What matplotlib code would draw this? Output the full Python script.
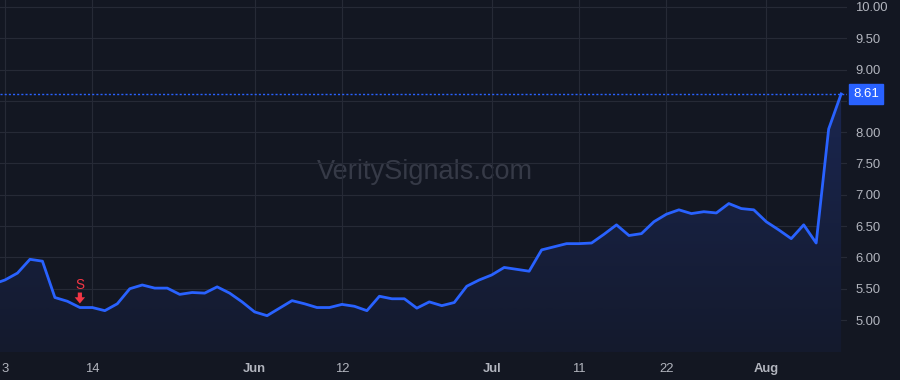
import numpy as np
import pandas as pd
import matplotlib
matplotlib.use('Agg')
import matplotlib.pyplot as plt
from matplotlib import transforms

# trading days, May 2 .. Aug 9 (May 2 sits just off the left edge)
dates = pd.to_datetime([
    '2024-05-02', '2024-05-03', '2024-05-06', '2024-05-07', '2024-05-08', '2024-05-09', '2024-05-10',
    '2024-05-13', '2024-05-14', '2024-05-15', '2024-05-16', '2024-05-17', '2024-05-20', '2024-05-21',
    '2024-05-22', '2024-05-23', '2024-05-24', '2024-05-28', '2024-05-29', '2024-05-30', '2024-05-31',
    '2024-06-03', '2024-06-04', '2024-06-05', '2024-06-06', '2024-06-07', '2024-06-10', '2024-06-11',
    '2024-06-12', '2024-06-13', '2024-06-14', '2024-06-17', '2024-06-18', '2024-06-20', '2024-06-21',
    '2024-06-24', '2024-06-25', '2024-06-26', '2024-06-27', '2024-06-28', '2024-07-01', '2024-07-02',
    '2024-07-03', '2024-07-05', '2024-07-08', '2024-07-09', '2024-07-10', '2024-07-11', '2024-07-12',
    '2024-07-15', '2024-07-16', '2024-07-17', '2024-07-18', '2024-07-19', '2024-07-22', '2024-07-23',
    '2024-07-24', '2024-07-25', '2024-07-26', '2024-07-29', '2024-07-30', '2024-07-31', '2024-08-01',
    '2024-08-02', '2024-08-05', '2024-08-06', '2024-08-07', '2024-08-08', '2024-08-09',
])
prices = [
    5.57, 5.64, 5.75, 5.97, 5.94, 5.36, 5.30,
    5.20, 5.20, 5.15, 5.26, 5.50, 5.56, 5.51,
    5.51, 5.41, 5.44, 5.43, 5.53, 5.43, 5.29,
    5.13, 5.07, 5.19, 5.31, 5.26, 5.20, 5.20,
    5.25, 5.22, 5.15, 5.38, 5.34, 5.34, 5.19,
    5.29, 5.23, 5.28, 5.54, 5.64, 5.72, 5.84,
    5.81, 5.78, 6.12, 6.17, 6.22, 6.22, 6.23,
    6.37, 6.52, 6.35, 6.38, 6.57, 6.69, 6.76,
    6.70, 6.73, 6.71, 6.86, 6.78, 6.76, 6.57,
    6.44, 6.30, 6.52, 6.23, 8.05, 8.61,
]
last_price = 8.61

tick_dates = ['2024-05-03', '2024-05-14', '2024-06-03', '2024-06-12',
              '2024-07-01', '2024-07-11', '2024-07-22', '2024-08-01']
tick_labels = ['3', '14', 'Jun', '12', 'Jul', '11', '22', 'Aug']
y_ticks = [5.0, 5.5, 6.0, 6.5, 7.0, 7.5, 8.0, 8.5, 9.0, 9.5, 10.0]

signal_date = '2024-05-13'
signal_text = 'S'

bg = '#131722'
grid_c = '#262a36'
line_c = '#2962ff'
text_c = '#b2b5be'
red = '#f23645'

plt.rcParams['font.family'] = ['Liberation Sans', 'DejaVu Sans']

x = np.arange(len(dates)) - 1  # May 3 -> 0
pos = {d: i for d, i in zip(dates, x)}

fig = plt.figure(figsize=(9, 3.8), dpi=100, facecolor=bg)
ax = fig.add_axes([0, 28 / 380, 847 / 900, 352 / 380], facecolor=bg)

ax.set_xlim(-0.4, 67.47)
ax.set_ylim(4.49, 10.11)

# gradient fill under the line
poly = ax.fill_between(x, prices, 4.49, color='none', lw=0)
grad = np.linspace(0, 1, 256).reshape(-1, 1)
cmap = matplotlib.colors.LinearSegmentedColormap.from_list('f', ['#141a2d', '#1a2650'])
img = ax.imshow(grad, extent=[x[0], x[-1], 4.49, last_price], origin='lower',
                aspect='auto', cmap=cmap, zorder=1)
img.set_clip_path(poly.get_paths()[0], transform=ax.transData)

ax.plot(x, prices, color=line_c, lw=2, zorder=3, solid_joinstyle='round')

# last price dotted line + label box
ax.axhline(last_price, color=line_c, lw=1, ls=(0, (1.5, 1.5)), zorder=2)
trans = transforms.blended_transform_factory(ax.transAxes, ax.transData)
ax.text(1.0 + 6 / 847, last_price, f'{last_price:.2f}', transform=trans, color='white',
        fontsize=9.5, va='center', ha='left', zorder=10, clip_on=False,
        bbox=dict(boxstyle='square,pad=0.3', fc=line_c, ec=line_c))

# sell signal
sx = pos[pd.Timestamp(signal_date)]
sy = prices[list(x).index(sx)]
tip = transforms.offset_copy(ax.transData, fig=fig, x=0, y=4, units='dots')
tail = transforms.offset_copy(ax.transData, fig=fig, x=0, y=15, units='dots')
ax.annotate('', xy=(sx, sy), xycoords=tip, xytext=(sx, sy), textcoords=tail, zorder=5,
            arrowprops=dict(arrowstyle='simple,head_width=0.75,head_length=0.45,tail_width=0.3',
                            fc=red, ec=red, lw=0, shrinkA=0, shrinkB=0, mutation_scale=10))
ax.annotate(signal_text, xy=(sx, sy), xytext=(0, 16.5), textcoords='offset points',
            color=red, fontsize=9.8, ha='center', va='center', zorder=5)

# watermark
ax.text(0.502, 0.512, 'VeritySignals.com', transform=ax.transAxes, color='#363a47',
        fontsize=19.5, ha='center', va='center', zorder=0)

xt = [pos[pd.Timestamp(d)] for d in tick_dates]
ax.set_xticks(xt)
ax.set_xticklabels(tick_labels)
for lab in ax.get_xticklabels():
    if lab.get_text() in ('Jun', 'Jul', 'Aug'):
        lab.set_fontweight('bold')
ax.set_yticks(y_ticks)
ax.set_yticklabels([f'{v:.2f}' for v in y_ticks])
ax.yaxis.tick_right()
ax.tick_params(axis='both', length=0, colors=text_c, labelsize=9.4)
ax.tick_params(axis='y', pad=6)
ax.tick_params(axis='x', pad=8)

ax.grid(True, color=grid_c, lw=0.8, zorder=0)
ax.set_axisbelow(True)
for s in ax.spines.values():
    s.set_visible(False)

fig.savefig('out.png', dpi=100, facecolor=bg)
